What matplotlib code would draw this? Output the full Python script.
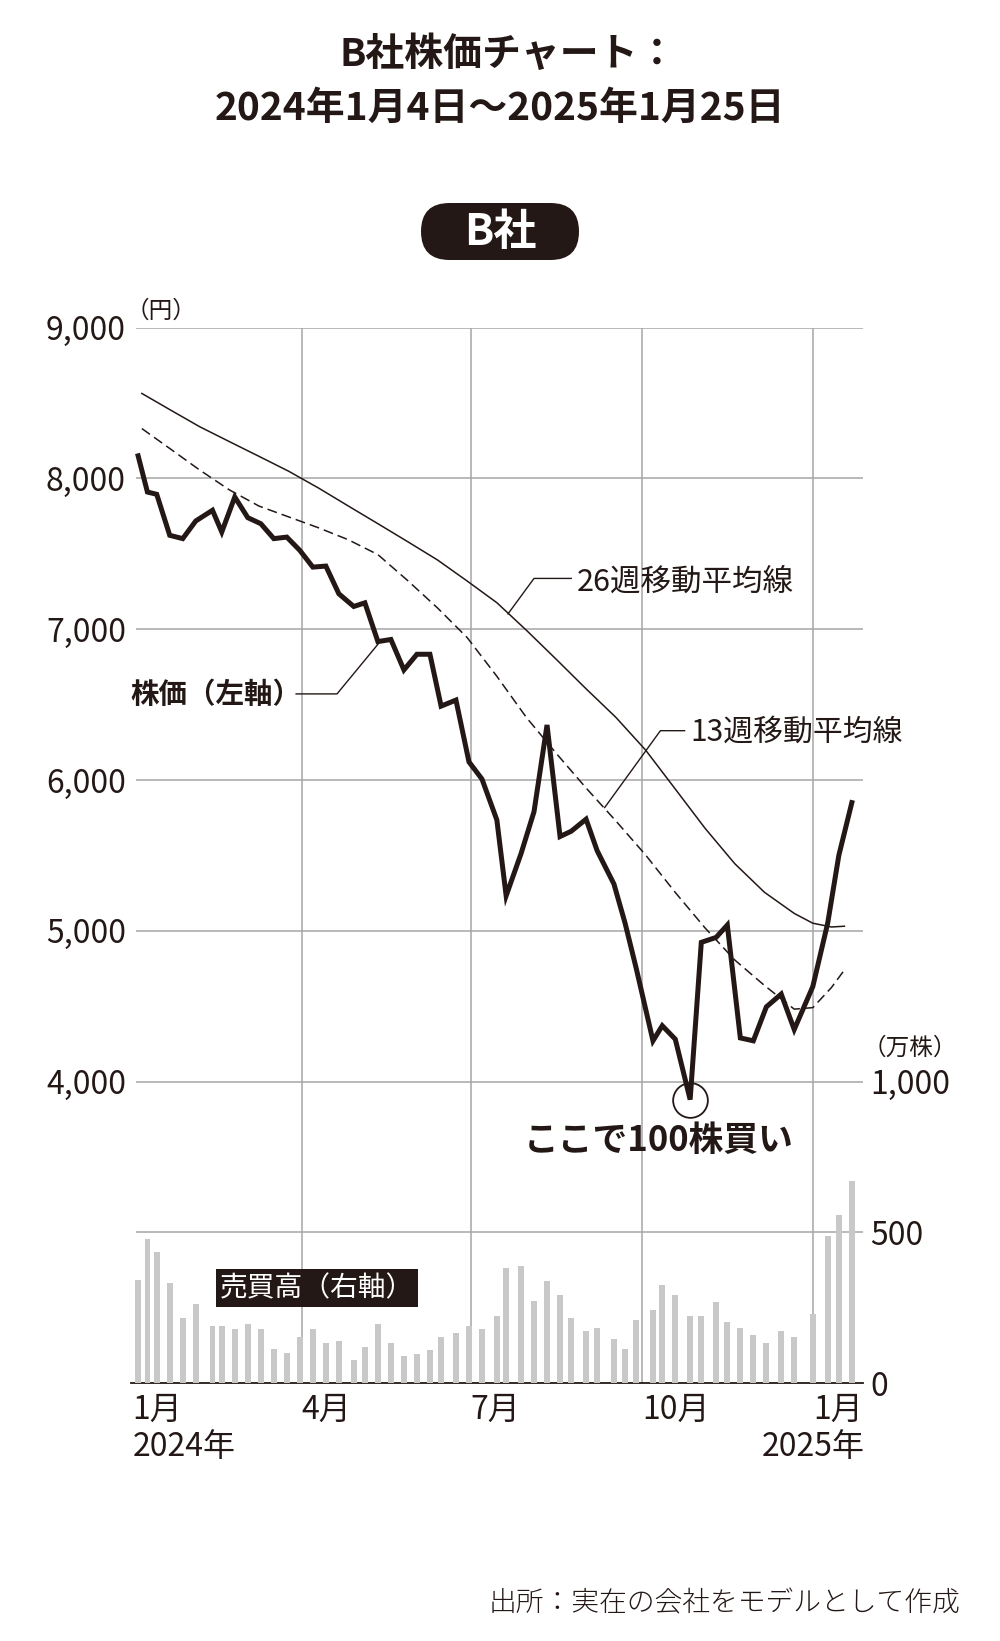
import pandas as pd
import matplotlib
matplotlib.use('Agg')
import matplotlib.pyplot as plt
from matplotlib.patches import FancyBboxPatch

plt.rcParams['font.family'] = ['Noto Sans CJK JP', 'DejaVu Sans']

INK = '#231815'
GRID = '#a6a6a6'
BAR = '#c8c8c8'

# weekly points (dates)
week_dates = pd.to_datetime([
    '2024-01-04', '2024-01-09', '2024-01-14', '2024-01-21', '2024-01-28', '2024-02-04',
    '2024-02-13', '2024-02-18', '2024-02-25', '2024-03-03', '2024-03-10', '2024-03-17',
    '2024-03-24', '2024-03-31', '2024-04-07', '2024-04-14', '2024-04-21', '2024-04-29',
    '2024-05-05', '2024-05-12', '2024-05-19', '2024-05-26', '2024-06-02', '2024-06-09',
    '2024-06-15', '2024-06-23', '2024-06-30', '2024-07-07', '2024-07-15', '2024-07-20',
    '2024-07-28', '2024-08-04', '2024-08-11', '2024-08-18', '2024-08-24', '2024-09-01',
    '2024-09-07', '2024-09-16', '2024-09-22', '2024-09-28', '2024-10-07', '2024-10-12',
    '2024-10-19', '2024-10-27', '2024-11-02', '2024-11-10', '2024-11-16', '2024-11-23',
    '2024-11-30', '2024-12-07', '2024-12-15', '2024-12-22', '2025-01-01', '2025-01-09',
    '2025-01-15', '2025-01-22'])

price = [8150, 7910, 7895, 7623, 7601, 7718, 7789, 7645, 7877, 7740, 7700, 7601,
         7611, 7523, 7412, 7419, 7235, 7151, 7175, 6918, 6932, 6730, 6834, 6834,
         6490, 6530, 6120, 6006, 5735, 5232, 5511, 5790, 6365, 5625, 5660, 5740,
         5530, 5310, 5050, 4750, 4270, 4370, 4281, 3880, 4923, 4956, 5038, 4289,
         4270, 4495, 4580, 4345, 4630, 5050, 5500, 5850]

volume = [343, 479, 434, 332, 216, 261, 190, 190, 179, 197, 178, 114,
          101, 152, 178, 133, 140, 77, 120, 197, 133, 89, 96, 108,
          152, 166, 190, 178, 222, 382, 389, 273, 338, 293, 216, 173,
          184, 147, 114, 210, 242, 326, 293, 222, 222, 268, 203, 184,
          159, 133, 172, 152, 229, 486, 557, 671]

ma_dates = pd.to_datetime([
    '2024-01-06', '2024-01-21', '2024-02-06', '2024-02-22', '2024-03-09', '2024-03-25',
    '2024-04-10', '2024-04-26', '2024-05-12', '2024-05-28', '2024-06-13', '2024-06-29',
    '2024-07-15', '2024-07-31', '2024-08-16', '2024-09-01', '2024-09-17', '2024-10-03',
    '2024-10-19', '2024-11-04', '2024-11-20', '2024-12-06', '2024-12-22', '2025-01-01',
    '2025-01-11', '2025-01-18'])

ma13 = [8331, 8199, 8057, 7925, 7817, 7745, 7673, 7594, 7495, 7323, 7142, 6945,
        6688, 6413, 6176, 5947, 5729, 5503, 5254, 5019, 4806, 4637, 4480, 4490,
        4623, 4740]

ma26 = [8564, 8457, 8344, 8245, 8147, 8048, 7937, 7818, 7700, 7581, 7460, 7320,
        7176, 6992, 6800, 6605, 6416, 6199, 5940, 5680, 5445, 5255, 5115, 5050,
        5025, 5030]

price_ticks = [4000, 5000, 6000, 7000, 8000, 9000]
grid_prices = [3000, 4000, 5000, 6000, 7000, 8000, 9000]
vol_ticks = [0, 500, 1000]
month_ticks = pd.to_datetime(['2024-01-01', '2024-04-01', '2024-07-01', '2024-10-01', '2025-01-01'])
month_labels = ['1月', '4月', '7月', '10月', '1月']

x_left = pd.Timestamp('2023-12-31')
x_right = pd.Timestamp('2025-01-28')

fig = plt.figure(figsize=(10, 16.41), dpi=100)
fig.patch.set_facecolor('white')

# titles
fig.text(0.508, 1 - 54 / 1641, 'B社株価チャート：', ha='center', va='center',
         fontsize=28, fontweight='bold', color=INK)
fig.text(0.5, 1 - 108 / 1641, '2024年1月4日～2025年1月25日', ha='center', va='center',
         fontsize=28, fontweight='bold', color=INK)

# black pill badge
badge = FancyBboxPatch((4.21, 16.41 - 2.60), 1.58, 0.57,
                       boxstyle='round,pad=0,rounding_size=0.285',
                       transform=fig.dpi_scale_trans, fc=INK, ec='none')
fig.add_artist(badge)
fig.text(0.5, 1 - 232 / 1641, 'B社', ha='center', va='center',
         fontsize=31, fontweight='bold', color='white')

ax = fig.add_axes([0.1307, 0.1572, 0.7323, 0.6431])
ax2 = ax.twinx()

ax.set_xlim(x_left, x_right)
ax.set_ylim(2000, 9000)
ax2.set_ylim(0, 3500)

# grid
ax.hlines(grid_prices, pd.Timestamp('2024-01-03'), x_right, color=GRID, lw=1.1, zorder=0)
ax.vlines(month_ticks[1:], 2000, 9000, color=GRID, lw=1.1, zorder=0)

for s in ['top', 'left', 'right']:
    ax.spines[s].set_visible(False)
    ax2.spines[s].set_visible(False)
ax2.spines['bottom'].set_visible(False)
ax.spines['bottom'].set_color(INK)
ax.spines['bottom'].set_linewidth(1.3)

# volume bars
ax2.bar(week_dates, volume, width=3.1, color=BAR, zorder=2)

# price and moving averages
ax.plot(ma_dates, ma26, color=INK, lw=1.1, zorder=4)
ax.plot(ma_dates, ma13, color=INK, lw=1.1, ls=(0, (6.5, 3.3)), zorder=4)
ax.plot(week_dates, price, color=INK, lw=3.6, solid_joinstyle='miter', zorder=5)
imin = price.index(min(price))
ax.plot(week_dates[imin], price[imin], 'o', ms=25, mfc='none', mec=INK, mew=1.3, zorder=6)

# ticks
ax.set_yticks(price_ticks, [f'{v:,}' for v in price_ticks])
ax.tick_params(axis='y', length=0, pad=3.4, labelsize=23, labelcolor=INK)
ax2.set_yticks(vol_ticks, [f'{v:,}' for v in vol_ticks])
ax2.tick_params(axis='y', length=0, pad=5, labelsize=23, labelcolor=INK)
ax.set_xticks(month_ticks, month_labels)
ax.tick_params(axis='x', length=0, pad=7.5, labelsize=23, labelcolor=INK)
for lb in ax.get_xticklabels():
    lb.set_ha('left')
ax.text(month_ticks[0], -0.061, '2024年', transform=ax.get_xaxis_transform(),
        ha='left', va='center', fontsize=23, color=INK)
ax.text(pd.Timestamp('2025-01-29'), -0.061, '2025年', transform=ax.get_xaxis_transform(),
        ha='right', va='center', fontsize=23, color=INK)

# unit labels
ax.text(pd.Timestamp('2023-12-28'), 9110, '（円）', ha='left', va='center',
        fontsize=17, color=INK, clip_on=False)
ax2.text(pd.Timestamp('2025-01-28'), 1110, '（万株）', ha='left', va='center',
         fontsize=17, color=INK, clip_on=False)

# annotations
ax.plot(pd.to_datetime(['2024-03-29', '2024-04-20', '2024-05-12']), [6571, 6571, 6900],
        color=INK, lw=1.0, zorder=4)
ax.text(pd.Timestamp('2023-12-31'), 6565, '株価（左軸）', ha='left', va='center',
        fontsize=20.5, fontweight='bold', color=INK)

ax.plot(pd.to_datetime(['2024-07-21', '2024-08-04', '2024-08-24']), [7102, 7337, 7337],
        color=INK, lw=1.0, zorder=4)
ax.text(pd.Timestamp('2024-08-27'), 7315, '26週移動平均線', ha='left', va='center',
        fontsize=22, color=INK)

ax.plot(pd.to_datetime(['2024-09-11', '2024-10-11', '2024-10-24']), [5817, 6327, 6327],
        color=INK, lw=1.0, zorder=4)
ax.text(pd.Timestamp('2024-10-27'), 6315, '13週移動平均線', ha='left', va='center',
        fontsize=21.5, color=INK)

ax.text(pd.Timestamp('2024-10-10'), 3610, 'ここで100株買い', ha='center', va='center',
        fontsize=25, fontweight='bold', color=INK)

ax2.text(pd.Timestamp('2024-02-17'), 315, '売買高（右軸）', ha='left', va='center',
         fontsize=20, color='white', zorder=8,
         bbox=dict(boxstyle='square,pad=0.15', fc=INK, ec='none'))

fig.text(0.960, 1 - 1603 / 1641, '出所：実在の会社をモデルとして作成', ha='right', va='center',
         fontsize=20, fontweight='light', color=INK)

fig.savefig('out.png', dpi=100)
